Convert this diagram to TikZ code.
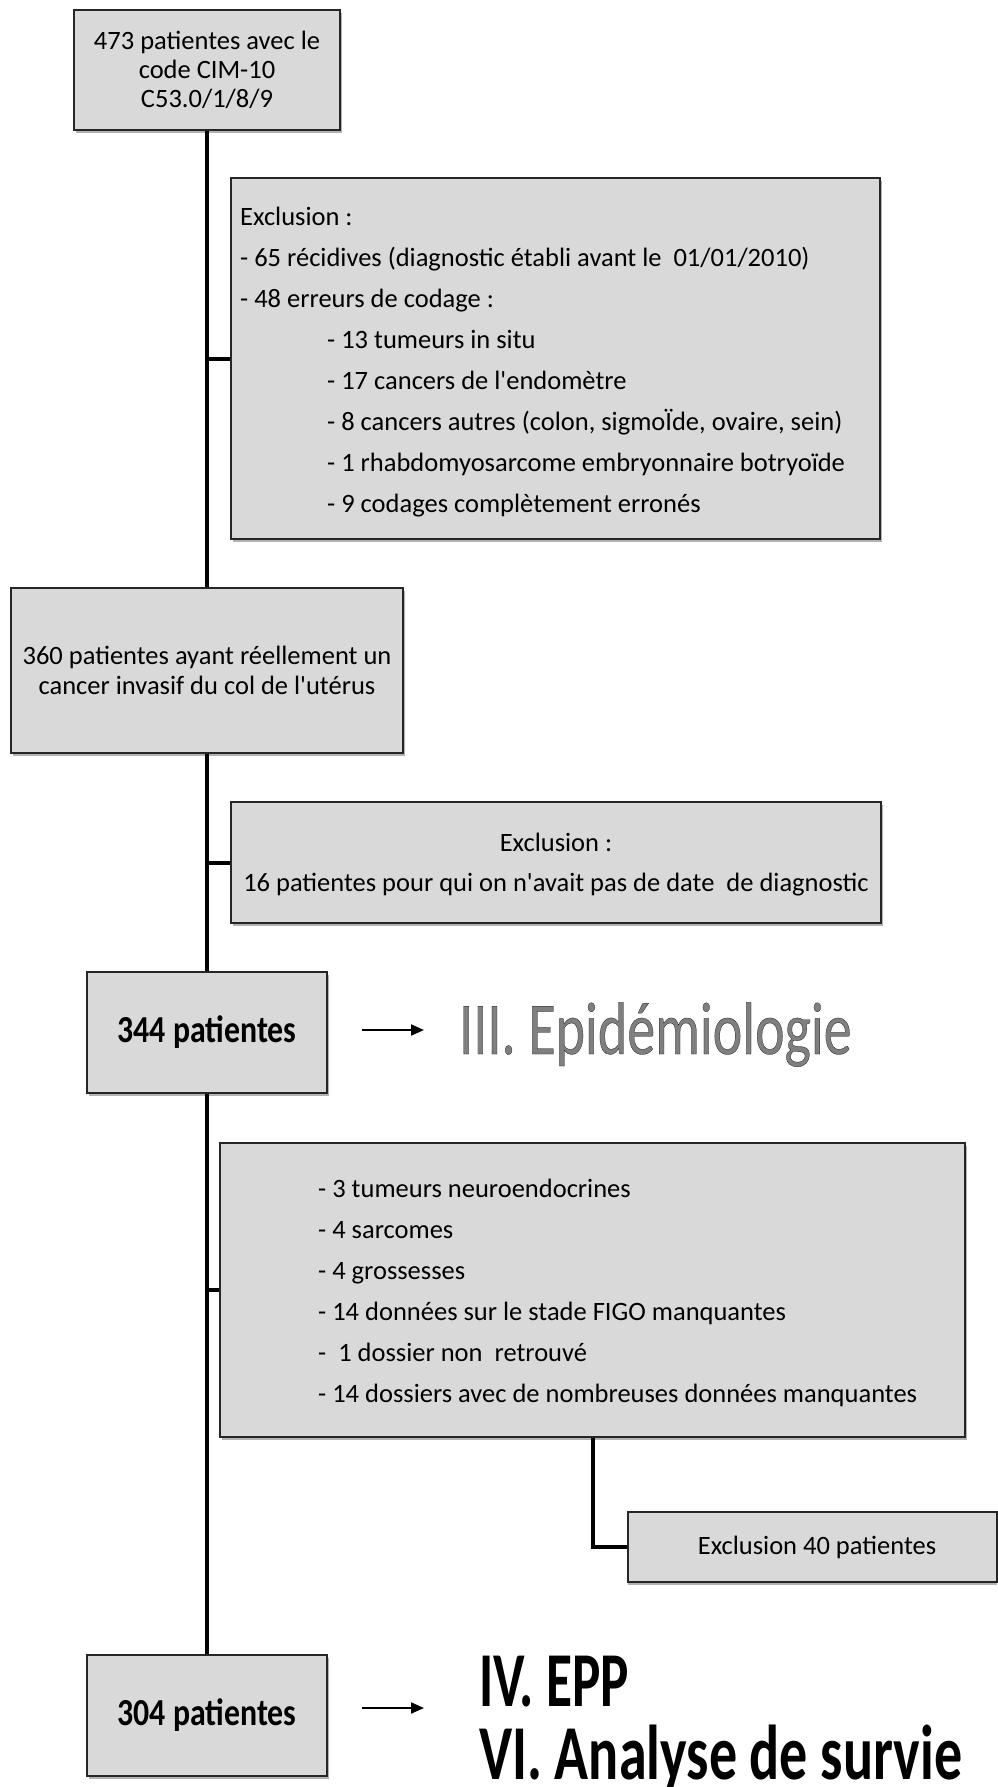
\documentclass[tikz,border=0pt]{standalone}
\usepackage{fontspec}
\setmainfont{Carlito}
\usepackage{graphicx}
\usetikzlibrary{arrows.meta,shadows}
\definecolor{boxfill}{HTML}{D9D9D9}
\definecolor{boxline}{HTML}{262626}
\definecolor{epifill}{HTML}{7F7F7F}
\newcommand\outltext[1]{\textcolor{epifill}{\special{pdf:literal direct 0.05 0.05 0.05 RG 2 Tr 0.2 w}#1\special{pdf:literal direct 0 Tr}}}
\tikzset{
  boxbase/.style={draw=boxline, line width=1.8pt, fill=boxfill, inner sep=0pt},
  box/.style={boxbase,
    drop shadow={shadow xshift=2pt, shadow yshift=-3pt, opacity=0.3, fill=black}},
  edgebox/.style={boxbase,
    drop shadow={shadow xshift=0pt, shadow yshift=-3pt, opacity=0.3, fill=black}},
  conn/.style={line width=4pt, black},
  pointer/.style={line width=2pt, -{Triangle[length=13pt,width=11pt]}},
  reg/.style={font=\fontsize{26.5}{29}\selectfont},
  boldt/.style={font=\fontsize{31.8}{34}\selectfont\bfseries},
}
\begin{document}
\begin{tikzpicture}[x=1pt,y=-1pt]
\useasboundingbox (0,0) rectangle (997,1787);
% boxes
\node[box, reg, minimum width=266pt, minimum height=120pt, align=center] (b1) at (207,70)
  {473 patientes avec le\\code CIM-10\\C53.0/1/8/9};
\node[box, minimum width=649pt, minimum height=361pt] (b2) at (555.5,358.5) {};
\node[reg, anchor=west, align=left, inner sep=0pt, font=\fontsize{26.5}{41}\selectfont] (t2) at (240,362.5)
  {Exclusion :\\
   - 65 récidives (diagnostic établi avant le \ 01/01/2010)\\
   - 48 erreurs de codage :\\
   \hspace*{87pt}- 13 tumeurs in situ\\
   \hspace*{87pt}- 17 cancers de l\textquotesingle endomètre\\
   \hspace*{87pt}- 8 cancers autres (colon, sigmoÏde, ovaire, sein)\\
   \hspace*{87pt}- 1 rhabdomyosarcome embryonnaire botryoïde\\
   \hspace*{87pt}- 9 codages complètement erronés};
\node[box, reg, minimum width=392pt, minimum height=165pt, align=center, font=\fontsize{26.5}{30}\selectfont] (b3) at (207,670.5)
  {360 patientes ayant réellement un\\cancer invasif du col de l\textquotesingle utérus};
\node[box, minimum width=650pt, minimum height=121pt] (b4) at (556,862.5) {};
\node[align=center, inner sep=0pt, font=\fontsize{26.5}{40}\selectfont] (t4) at (556,865)
  {Exclusion :\\16 patientes pour qui on n\textquotesingle avait pas de date \ de diagnostic};
\node[box, boldt, minimum width=240pt, minimum height=121pt] (b5) at (207,1032.5)
  {\scalebox{1}[1.2]{344 patientes}};
\node[box, minimum width=745pt, minimum height=294pt] (b6) at (592.5,1290) {};
\node[anchor=west, align=left, inner sep=0pt, font=\fontsize{26.5}{41}\selectfont] (t6) at (318,1292.5)
  {- 3 tumeurs neuroendocrines\\
   - 4 sarcomes\\
   - 4 grossesses\\
   - 14 données sur le stade FIGO manquantes\\
   - \ 1 dossier non \ retrouvé\\
   - 14 dossiers avec de nombreuses données manquantes};
\node[edgebox, minimum width=369pt, minimum height=70pt] (b7) at (812.5,1547) {};
\node[reg, inner sep=0pt] (t7) at (817,1547) {Exclusion 40 patientes};
\node[box, boldt, minimum width=240pt, minimum height=121pt] (b8) at (207,1715.5)
  {\scalebox{1}[1.2]{304 patientes}};
% connectors
\draw[conn] (b1.south) -- (b3.north);
\draw[conn] (b3.south) -- (b5.north);
\draw[conn] (b5.south) -- (b8.north);
\draw[conn] (b2.west -| b1.south) -- (b2.west);
\draw[conn] (b4.west -| b1.south) -- (b4.west);
\draw[conn] (b6.west -| b1.south) -- (b6.west);
\draw[conn] (b6.south) |- (b7.west);
% result arrows and headings
\coordinate (a1s) at (362,1030);
\coordinate (a1e) at (424,1030);
\draw[pointer] (a1s) -- (a1e);
\node[anchor=base west, inner sep=0pt, font=\fontsize{56}{60}\selectfont] (h1) at (459,1054)
  {\scalebox{1}[1.33]{\outltext{III. Epidémiologie}}};
\coordinate (a2s) at (362,1708);
\coordinate (a2e) at (424,1708);
\draw[pointer] (a2s) -- (a2e);
\node[anchor=base west, inner sep=0pt, font=\fontsize{55.5}{60}\selectfont\bfseries] (h2) at (479,1706)
  {\scalebox{0.96}[1.4]{IV. EPP}};
\node[anchor=base west, inner sep=0pt, font=\fontsize{55.5}{60}\selectfont\bfseries] (h3) at (479,1779)
  {\scalebox{1.01}[1.4]{VI. Analyse de survie}};
\end{tikzpicture}
\end{document}
